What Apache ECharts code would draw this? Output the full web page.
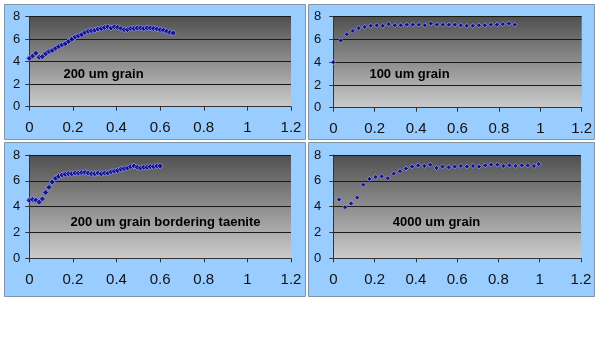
<!DOCTYPE html>
<html>
<head>
<meta charset="utf-8">
<script src="https://cdn.jsdelivr.net/npm/echarts@6/dist/echarts.min.js"></script>
<style>
html,body{margin:0;padding:0;background:#fff;}
#c{width:600px;height:356px;}
</style>
</head>
<body>
<div id="c"></div>
<script>
// ---- data ----
var titles = ['200 um grain', '100 um grain', '200 um grain bordering taenite', '4000 um grain'];
var xTicks = [0, 0.2, 0.4, 0.6, 0.8, 1, 1.2];
var yTicks = [0, 2, 4, 6, 8];

var x1 = [0,0.015,0.03,0.045,0.06,0.075,0.09,0.105,0.12,0.135,0.15,0.165,0.18,0.195,0.21,0.225,0.24,0.255,0.27,0.285,0.3,0.315,0.33,0.345,0.36,0.375,0.39,0.405,0.42,0.435,0.45,0.465,0.48,0.495,0.51,0.525,0.54,0.555,0.57,0.585,0.6,0.615,0.63,0.645,0.66];
var y1 = [4.3,4.5,4.75,4.4,4.45,4.7,4.9,5.0,5.2,5.35,5.5,5.6,5.8,6.0,6.2,6.3,6.4,6.6,6.7,6.75,6.8,6.9,6.95,7.05,7.1,7.0,7.1,7.05,6.95,6.85,6.85,6.95,6.95,7.0,7.0,6.95,7.0,7.0,6.95,6.9,6.85,6.8,6.7,6.6,6.55];

var x2 = [0,0.036,0.065,0.094,0.123,0.152,0.181,0.21,0.239,0.268,0.297,0.326,0.355,0.384,0.413,0.442,0.471,0.5,0.529,0.558,0.587,0.616,0.645,0.674,0.703,0.732,0.761,0.79,0.819,0.848,0.877];
var y2 = [4.0,5.9,6.45,6.75,7.0,7.1,7.2,7.25,7.2,7.35,7.25,7.25,7.3,7.3,7.3,7.25,7.4,7.3,7.3,7.3,7.3,7.25,7.2,7.2,7.25,7.25,7.3,7.3,7.35,7.4,7.3];

var x3 = [0,0.015,0.03,0.045,0.06,0.075,0.09,0.105,0.12,0.135,0.15,0.165,0.18,0.195,0.21,0.225,0.24,0.255,0.27,0.285,0.3,0.315,0.33,0.345,0.36,0.375,0.39,0.405,0.42,0.435,0.45,0.465,0.48,0.495,0.51,0.525,0.54,0.555,0.57,0.585,0.6];
var y3 = [4.5,4.55,4.5,4.35,4.6,5.1,5.5,5.9,6.2,6.35,6.45,6.5,6.55,6.55,6.6,6.6,6.65,6.65,6.6,6.55,6.55,6.6,6.55,6.6,6.6,6.7,6.75,6.8,6.9,6.95,7.0,7.1,7.15,7.05,7.0,7.05,7.05,7.1,7.1,7.15,7.15];

var x4 = [0.028,0.057,0.086,0.116,0.145,0.175,0.205,0.234,0.264,0.293,0.323,0.352,0.382,0.411,0.441,0.47,0.5,0.529,0.559,0.588,0.618,0.647,0.677,0.706,0.736,0.765,0.795,0.824,0.854,0.883,0.913,0.942,0.972,0.995];
var y4 = [4.55,3.95,4.25,4.7,5.7,6.15,6.3,6.35,6.2,6.55,6.75,6.95,7.1,7.2,7.15,7.25,7.0,7.1,7.05,7.1,7.15,7.1,7.15,7.1,7.2,7.25,7.25,7.15,7.2,7.15,7.2,7.2,7.15,7.3];

var xs = [x1, x2, x3, x4];
var ys = [y1, y2, y3, y4];

// ---- layout ----
var panels = [
  {x:4, y:4, w:301, h:135},
  {x:308, y:4, w:286, h:135},
  {x:4, y:142, w:301, h:154},
  {x:308, y:142, w:286, h:154}
];
var grids = [
  {left:29.3, top:16.7, width:261.7, height:90},
  {left:333.3, top:16.7, width:248.4, height:91},
  {left:29.3, top:155, width:261.7, height:103.3},
  {left:333.3, top:155, width:247.7, height:103.3}
];
var titlePos = [[103.5,74],[409.5,74],[165.5,222],[436.5,222]];
var ylabelMargin = [9, 12, 9, 12];
var symSizes = [6, 5, 6, 5];

var FONT = 'Arial, "Liberation Sans", sans-serif';

var option = {
  animation: false,
  backgroundColor: '#fff',
  graphic: [],
  grid: [], xAxis: [], yAxis: [], series: []
};

panels.forEach(function(p){
  option.graphic.push({
    type:'rect', z:-10, silent:true,
    shape:{x:p.x+0.5, y:p.y+0.5, width:p.w, height:p.h},
    style:{fill:'#99ccff', stroke:'#8296aa', lineWidth:1}
  });
});

for (var i = 0; i < 4; i++) {
  var g = grids[i];
  option.grid.push({
    left:g.left, top:g.top, width:g.width, height:g.height,
    show:true, borderWidth:0,
    backgroundColor: new echarts.graphic.LinearGradient(0,0,0,1,[
      {offset:0, color:'#505050'},
      {offset:1, color:'#cbcbcb'}
    ])
  });
  option.xAxis.push({
    type:'value', gridIndex:i, min:xTicks[0], max:xTicks[xTicks.length-1], interval:0.2,
    axisLine:{show:true, onZero:false, lineStyle:{color:'#333', width:1}},
    axisTick:{show:true, inside:false, length:4, lineStyle:{color:'#333'}},
    splitLine:{show:false},
    axisLabel:{show:true, margin:14, fontSize:15, color:'#111', fontFamily:FONT,
      formatter:function(v){ return String(Math.round(v*10)/10); }}
  });
  option.yAxis.push({
    type:'value', gridIndex:i, min:yTicks[0], max:yTicks[yTicks.length-1], interval:2,
    axisLine:{show:true, lineStyle:{color:'#333', width:1}},
    axisTick:{show:true, inside:false, length:4, lineStyle:{color:'#333'}},
    splitLine:{show:true, lineStyle:{color:'#1a1a1a', width:1}},
    axisLabel:{show:true, margin:ylabelMargin[i], fontSize:13, color:'#111', fontFamily:FONT}
  });
  var d = xs[i].map(function(x, k){ return [x, ys[i][k]]; });
  option.series.push({
    type:'scatter', xAxisIndex:i, yAxisIndex:i, data:d,
    symbol:'diamond', symbolSize:symSizes[i],
    itemStyle:{color:'#000080', borderColor:'#9a9aff', borderWidth:1},
    silent:true
  });
  option.graphic.push({
    type:'text', z:10, silent:true,
    x:titlePos[i][0], y:titlePos[i][1],
    style:{text:titles[i], font:'bold 13px ' + FONT, fill:'#000', align:'center', verticalAlign:'middle'}
  });
}

var chart = echarts.init(document.getElementById('c'), null, {renderer:'canvas'});
chart.setOption(option);
</script>
</body>
</html>
